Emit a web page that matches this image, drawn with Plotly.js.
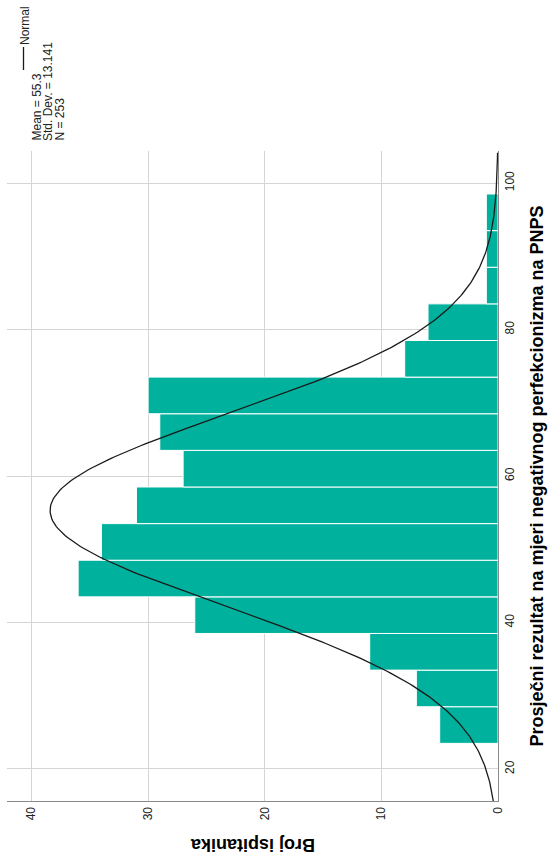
<!DOCTYPE html>
<html>
<head>
<meta charset="utf-8">
<script src="https://cdn.plot.ly/plotly-3.0.1.min.js"></script>
<style>
  html, body { margin: 0; padding: 0; background: #ffffff; }
  #chart { width: 555px; height: 859px; }
</style>
</head>
<body>
<div id="chart"></div>
<script>
// ---- data ----
const binCenters = [26, 31, 36, 41, 46, 51, 56, 61, 66, 71, 76, 81, 86, 91, 96];
const binCounts  = [5, 7, 11, 26, 36, 34, 31, 27, 29, 30, 8, 6, 1, 1, 1];
const binWidth = 5;
const statMean = 55.3;
const statSD = 13.141;
const statN = 253;
const scoreTicks = [20, 40, 60, 80, 100];
const countTicks = [0, 10, 20, 30, 40];
const scoreTitle = "Prosječni rezultat na mjeri negativnog perfekcionizma na PNPS";
const countTitle = "Broj ispitanika";
const legendLines = ["Mean = 55.3", "Std. Dev. = 13.141", "N = 253"];
const legendName = "Normal";

const scoreRange = [15.63, 104.37];
const countRange = [42.1, 0];

// fitted normal curve (scaled to counts) from the stated mean / sd / N
const curveY = [];
const curveX = [];
for (let s = scoreRange[0]; s <= scoreRange[1] + 1e-9; s += 0.25) {
  const z = (s - statMean) / statSD;
  curveY.push(s);
  curveX.push(statN * binWidth * Math.exp(-0.5 * z * z) / (statSD * Math.sqrt(2 * Math.PI)));
}

const FONT = "Liberation Sans, Arial, sans-serif";
const plotL = 7, plotR = 57, plotT = 151, plotB = 58;
const W = 555, H = 859;
const pw = W - plotL - plotR, ph = H - plotT - plotB;
const px2x = p => (p - plotL) / pw;
const py2y = p => (H - plotB - p) / ph;

const traces = [
  {
    type: "bar",
    orientation: "h",
    y: binCenters,
    x: binCounts,
    width: binWidth,
    marker: { color: "#00b29e", line: { color: "#ffffff", width: 1 } },
    hoverinfo: "skip",
    showlegend: false
  },
  {
    type: "scatter",
    mode: "lines",
    y: curveY,
    x: curveX,
    line: { color: "#1a1a1a", width: 1.3 },
    hoverinfo: "skip",
    showlegend: false
  }
];

const annotations = [
  {
    xref: "paper", yref: "paper",
    x: 0.5, y: py2y(845),
    xanchor: "center", yanchor: "middle",
    text: "<b>" + countTitle + "</b>",
    textangle: 180,
    showarrow: false,
    font: { family: FONT, size: 18, color: "#000000" }
  },
  {
    xref: "paper", yref: "paper",
    x: px2x(24.5), y: py2y(4),
    xanchor: "center", yanchor: "top",
    text: legendName,
    textangle: -90,
    showarrow: false,
    font: { family: FONT, size: 12, color: "#222222" }
  }
];
const legendX = [37, 48.5, 60];
legendLines.forEach((t, i) => {
  annotations.push({
    xref: "paper", yref: "paper",
    x: px2x(legendX[i]), y: py2y(143),
    xanchor: "center", yanchor: "bottom",
    text: t,
    textangle: -90,
    showarrow: false,
    font: { family: FONT, size: 12, color: "#222222" }
  });
});

const shapes = [
  {
    type: "line", xref: "paper", yref: "paper",
    x0: px2x(23.5), x1: px2x(23.5), y0: py2y(47), y1: py2y(70),
    line: { color: "#1a1a1a", width: 1.3 }
  }
];

const layout = {
  width: W, height: H,
  margin: { l: plotL, r: plotR, t: plotT, b: plotB, pad: 0 },
  paper_bgcolor: "#ffffff",
  plot_bgcolor: "#ffffff",
  bargap: 0,
  font: { family: FONT, size: 12, color: "#222222" },
  xaxis: {
    range: countRange,
    tickvals: countTicks,
    ticktext: countTicks.map(String),
    tickangle: -90,
    ticks: "",
    showgrid: true,
    gridcolor: "#d4d4d4",
    gridwidth: 1,
    zeroline: false,
    showline: true,
    linecolor: "#8a8a8a",
    linewidth: 1.2,
    tickfont: { family: FONT, size: 12, color: "#222222" },
    fixedrange: true
  },
  yaxis: {
    side: "right",
    range: scoreRange,
    tickvals: scoreTicks,
    ticktext: scoreTicks.map(String),
    tickangle: -90,
    ticks: "",
    showgrid: true,
    gridcolor: "#d4d4d4",
    gridwidth: 1,
    zeroline: false,
    showline: true,
    linecolor: "#8a8a8a",
    linewidth: 1.2,
    tickfont: { family: FONT, size: 12, color: "#222222" },
    title: {
      text: "<b>" + scoreTitle + "</b>",
      font: { family: FONT, size: 18, color: "#000000" },
      standoff: 14
    },
    fixedrange: true
  },
  annotations: annotations,
  shapes: shapes
};

Plotly.newPlot("chart", traces, layout, { staticPlot: true, displayModeBar: false });
</script>
</body>
</html>
